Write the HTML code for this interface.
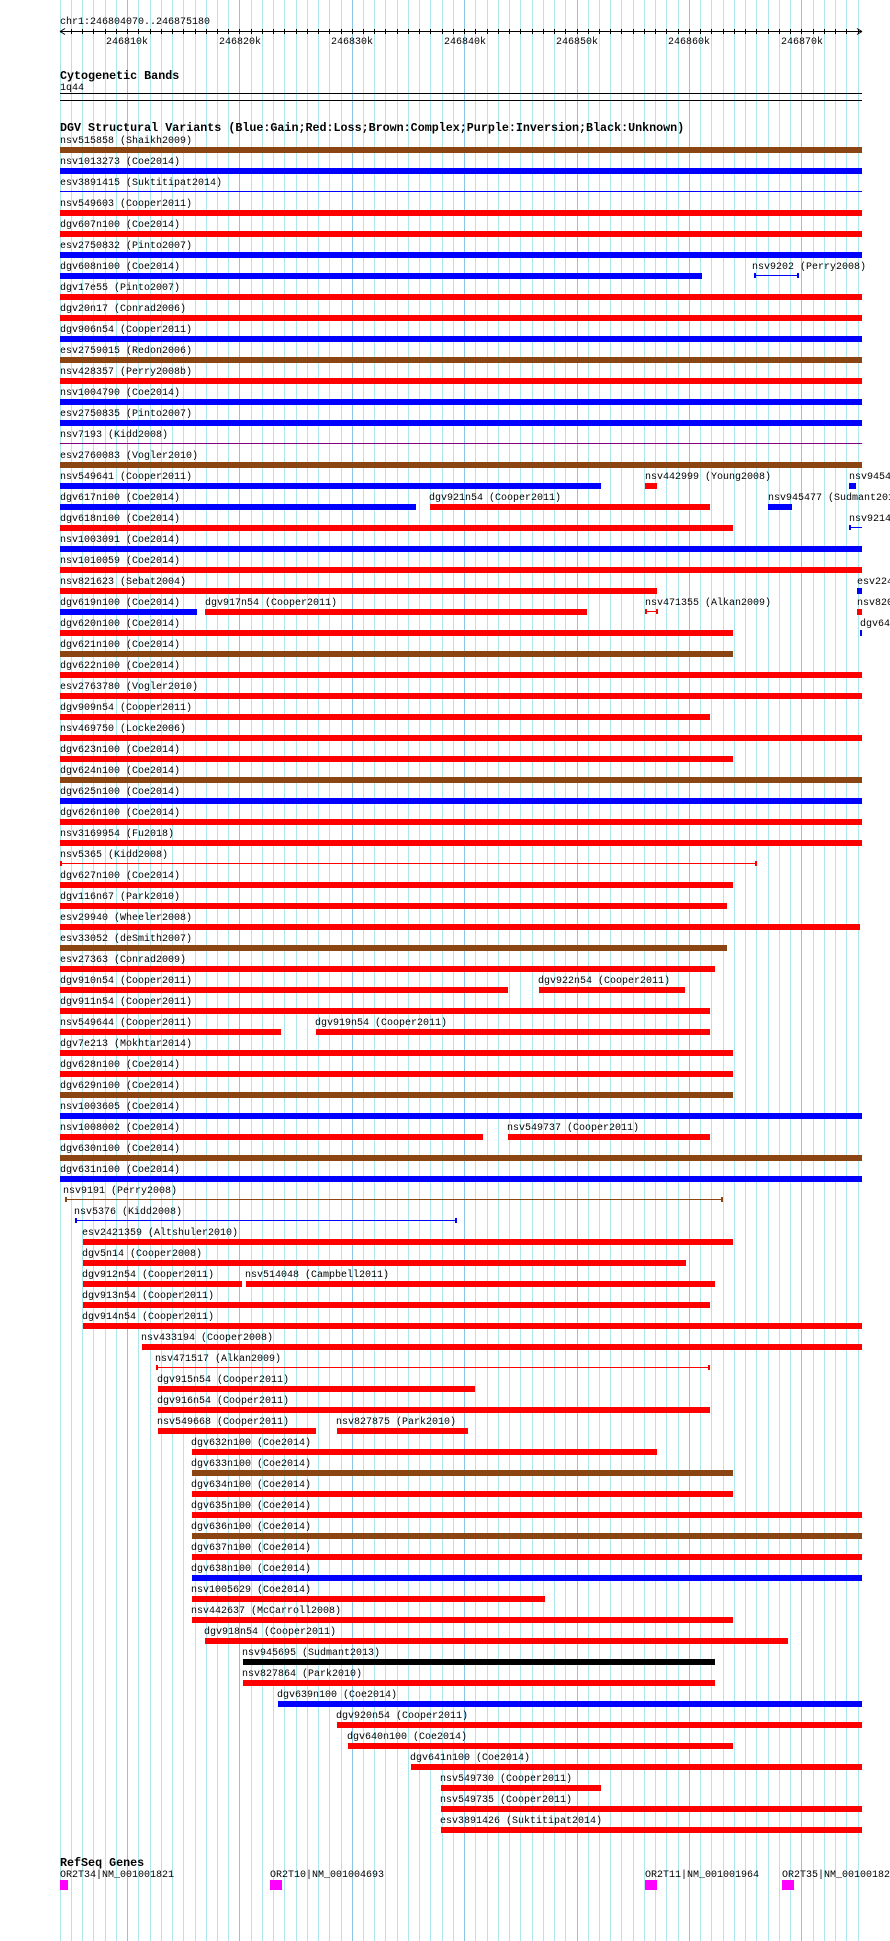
<!DOCTYPE html>
<html><head><meta charset="utf-8"><style>
html,body{margin:0;padding:0;background:#fff;}
svg{display:block;}
text{font-family:"Liberation Mono",monospace;font-size:10px;fill:#000;}
.b{font-weight:bold;font-size:11.7px;}
.g{stroke:#aee6ee;stroke-width:1;}
.G{stroke:#8cc6e6;stroke-width:1;}
</style></head><body>
<svg width="890" height="1941" viewBox="0 0 890 1941" xmlns="http://www.w3.org/2000/svg">
<g>
<line class="g" x1="60.5" y1="0" x2="60.5" y2="1941"/><line class="g" x1="71.5" y1="0" x2="71.5" y2="1941"/><line class="g" x1="82.5" y1="0" x2="82.5" y2="1941"/><line class="g" x1="93.5" y1="0" x2="93.5" y2="1941"/><line class="g" x1="105.5" y1="0" x2="105.5" y2="1941"/><line class="g" x1="116.5" y1="0" x2="116.5" y2="1941"/><line class="G" x1="127.5" y1="0" x2="127.5" y2="1941"/><line class="g" x1="138.5" y1="0" x2="138.5" y2="1941"/><line class="g" x1="150.5" y1="0" x2="150.5" y2="1941"/><line class="g" x1="161.5" y1="0" x2="161.5" y2="1941"/><line class="g" x1="172.5" y1="0" x2="172.5" y2="1941"/><line class="g" x1="183.5" y1="0" x2="183.5" y2="1941"/><line class="g" x1="195.5" y1="0" x2="195.5" y2="1941"/><line class="g" x1="206.5" y1="0" x2="206.5" y2="1941"/><line class="g" x1="217.5" y1="0" x2="217.5" y2="1941"/><line class="g" x1="228.5" y1="0" x2="228.5" y2="1941"/><line class="G" x1="239.5" y1="0" x2="239.5" y2="1941"/><line class="g" x1="251.5" y1="0" x2="251.5" y2="1941"/><line class="g" x1="262.5" y1="0" x2="262.5" y2="1941"/><line class="g" x1="273.5" y1="0" x2="273.5" y2="1941"/><line class="g" x1="284.5" y1="0" x2="284.5" y2="1941"/><line class="g" x1="296.5" y1="0" x2="296.5" y2="1941"/><line class="g" x1="307.5" y1="0" x2="307.5" y2="1941"/><line class="g" x1="318.5" y1="0" x2="318.5" y2="1941"/><line class="g" x1="329.5" y1="0" x2="329.5" y2="1941"/><line class="g" x1="341.5" y1="0" x2="341.5" y2="1941"/><line class="G" x1="352.5" y1="0" x2="352.5" y2="1941"/><line class="g" x1="363.5" y1="0" x2="363.5" y2="1941"/><line class="g" x1="374.5" y1="0" x2="374.5" y2="1941"/><line class="g" x1="385.5" y1="0" x2="385.5" y2="1941"/><line class="g" x1="397.5" y1="0" x2="397.5" y2="1941"/><line class="g" x1="408.5" y1="0" x2="408.5" y2="1941"/><line class="g" x1="419.5" y1="0" x2="419.5" y2="1941"/><line class="g" x1="430.5" y1="0" x2="430.5" y2="1941"/><line class="g" x1="442.5" y1="0" x2="442.5" y2="1941"/><line class="g" x1="453.5" y1="0" x2="453.5" y2="1941"/><line class="G" x1="464.5" y1="0" x2="464.5" y2="1941"/><line class="g" x1="475.5" y1="0" x2="475.5" y2="1941"/><line class="g" x1="487.5" y1="0" x2="487.5" y2="1941"/><line class="g" x1="498.5" y1="0" x2="498.5" y2="1941"/><line class="g" x1="509.5" y1="0" x2="509.5" y2="1941"/><line class="g" x1="520.5" y1="0" x2="520.5" y2="1941"/><line class="g" x1="532.5" y1="0" x2="532.5" y2="1941"/><line class="g" x1="543.5" y1="0" x2="543.5" y2="1941"/><line class="g" x1="554.5" y1="0" x2="554.5" y2="1941"/><line class="g" x1="565.5" y1="0" x2="565.5" y2="1941"/><line class="G" x1="577.5" y1="0" x2="577.5" y2="1941"/><line class="g" x1="588.5" y1="0" x2="588.5" y2="1941"/><line class="g" x1="599.5" y1="0" x2="599.5" y2="1941"/><line class="g" x1="610.5" y1="0" x2="610.5" y2="1941"/><line class="g" x1="621.5" y1="0" x2="621.5" y2="1941"/><line class="g" x1="633.5" y1="0" x2="633.5" y2="1941"/><line class="g" x1="644.5" y1="0" x2="644.5" y2="1941"/><line class="g" x1="655.5" y1="0" x2="655.5" y2="1941"/><line class="g" x1="666.5" y1="0" x2="666.5" y2="1941"/><line class="g" x1="678.5" y1="0" x2="678.5" y2="1941"/><line class="G" x1="689.5" y1="0" x2="689.5" y2="1941"/><line class="g" x1="700.5" y1="0" x2="700.5" y2="1941"/><line class="g" x1="711.5" y1="0" x2="711.5" y2="1941"/><line class="g" x1="723.5" y1="0" x2="723.5" y2="1941"/><line class="g" x1="734.5" y1="0" x2="734.5" y2="1941"/><line class="g" x1="745.5" y1="0" x2="745.5" y2="1941"/><line class="g" x1="756.5" y1="0" x2="756.5" y2="1941"/><line class="g" x1="768.5" y1="0" x2="768.5" y2="1941"/><line class="g" x1="779.5" y1="0" x2="779.5" y2="1941"/><line class="g" x1="790.5" y1="0" x2="790.5" y2="1941"/><line class="G" x1="801.5" y1="0" x2="801.5" y2="1941"/><line class="g" x1="813.5" y1="0" x2="813.5" y2="1941"/><line class="g" x1="824.5" y1="0" x2="824.5" y2="1941"/><line class="g" x1="835.5" y1="0" x2="835.5" y2="1941"/><line class="g" x1="846.5" y1="0" x2="846.5" y2="1941"/><line class="g" x1="858.5" y1="0" x2="858.5" y2="1941"/>
</g>
<!-- ruler -->
<text x="60" y="24">chr1:246804070..246875180</text>
<line x1="60" y1="31.5" x2="862" y2="31.5" stroke="#000"/>
<path d="M60 31.5 L65 28.5 M60 31.5 L65 34.5 M862 31.5 L857 28.5 M862 31.5 L857 34.5" stroke="#000" fill="none"/>
<path stroke="#000" fill="none" d="M71.5 29v5M82.5 29v5M93.5 29v5M105.5 29v5M116.5 29v5M127.5 29v5M138.5 29v5M150.5 29v5M161.5 29v5M172.5 29v5M183.5 29v5M195.5 29v5M206.5 29v5M217.5 29v5M228.5 29v5M239.5 29v5M251.5 29v5M262.5 29v5M273.5 29v5M284.5 29v5M296.5 29v5M307.5 29v5M318.5 29v5M329.5 29v5M341.5 29v5M352.5 29v5M363.5 29v5M374.5 29v5M385.5 29v5M397.5 29v5M408.5 29v5M419.5 29v5M430.5 29v5M442.5 29v5M453.5 29v5M464.5 29v5M475.5 29v5M487.5 29v5M498.5 29v5M509.5 29v5M520.5 29v5M532.5 29v5M543.5 29v5M554.5 29v5M565.5 29v5M577.5 29v5M588.5 29v5M599.5 29v5M610.5 29v5M621.5 29v5M633.5 29v5M644.5 29v5M655.5 29v5M666.5 29v5M678.5 29v5M689.5 29v5M700.5 29v5M711.5 29v5M723.5 29v5M734.5 29v5M745.5 29v5M756.5 29v5M768.5 29v5M779.5 29v5M790.5 29v5M801.5 29v5M813.5 29v5M824.5 29v5M835.5 29v5M846.5 29v5M858.5 29v5"/>
<g text-anchor="middle">
<text x="127" y="44">246810k</text><text x="240" y="44">246820k</text><text x="352" y="44">246830k</text><text x="465" y="44">246840k</text><text x="577" y="44">246850k</text><text x="689" y="44">246860k</text><text x="802" y="44">246870k</text>
</g>
<text class="b" x="60" y="79">Cytogenetic Bands</text>
<text x="60" y="90">1q44</text>
<rect x="60" y="93" width="802" height="1" fill="#000"/>
<rect x="60" y="100" width="802" height="1" fill="#000"/>
<text class="b" x="60" y="131">DGV Structural Variants (Blue:Gain;Red:Loss;Brown:Complex;Purple:Inversion;Black:Unknown)</text>

<g fill="#f00">
<g transform="translate(0,147)"><text x="60" y="-4">nsv515858 (Shaikh2009)</text><rect x="60" width="802" height="6" fill="#8b4513"/></g>
<g transform="translate(0,168)"><text x="60" y="-4">nsv1013273 (Coe2014)</text><rect x="60" width="802" height="6" fill="#00f"/></g>
<g transform="translate(0,189)"><text x="60" y="-4">esv3891415 (Suktitipat2014)</text><rect x="60" y="2" width="802" height="1" fill="#00f"/></g>
<g transform="translate(0,210)"><text x="60" y="-4">nsv549603 (Cooper2011)</text><rect x="60" width="802" height="6"/></g>
<g transform="translate(0,231)"><text x="60" y="-4">dgv607n100 (Coe2014)</text><rect x="60" width="802" height="6"/></g>
<g transform="translate(0,252)"><text x="60" y="-4">esv2750832 (Pinto2007)</text><rect x="60" width="802" height="6" fill="#00f"/></g>
<g transform="translate(0,273)"><text x="60" y="-4">dgv608n100 (Coe2014)</text><rect x="60" width="642" height="6" fill="#00f"/><text x="752" y="-4">nsv9202 (Perry2008)</text><g fill="#00f"><rect x="754" y="2" width="45" height="1"/><rect x="754" y="0" width="2" height="5"/><rect x="797" y="0" width="2" height="5"/></g></g>
<g transform="translate(0,294)"><text x="60" y="-4">dgv17e55 (Pinto2007)</text><rect x="60" width="802" height="6"/></g>
<g transform="translate(0,315)"><text x="60" y="-4">dgv20n17 (Conrad2006)</text><rect x="60" width="802" height="6"/></g>
<g transform="translate(0,336)"><text x="60" y="-4">dgv906n54 (Cooper2011)</text><rect x="60" width="802" height="6" fill="#00f"/></g>
<g transform="translate(0,357)"><text x="60" y="-4">esv2759015 (Redon2006)</text><rect x="60" width="802" height="6" fill="#8b4513"/></g>
<g transform="translate(0,378)"><text x="60" y="-4">nsv428357 (Perry2008b)</text><rect x="60" width="802" height="6"/></g>
<g transform="translate(0,399)"><text x="60" y="-4">nsv1004790 (Coe2014)</text><rect x="60" width="802" height="6" fill="#00f"/></g>
<g transform="translate(0,420)"><text x="60" y="-4">esv2750835 (Pinto2007)</text><rect x="60" width="802" height="6" fill="#00f"/></g>
<g transform="translate(0,441)"><text x="60" y="-4">nsv7193 (Kidd2008)</text><rect x="60" y="2" width="802" height="1" fill="#800080"/></g>
<g transform="translate(0,462)"><text x="60" y="-4">esv2760083 (Vogler2010)</text><rect x="60" width="802" height="6" fill="#8b4513"/></g>
<g transform="translate(0,483)"><text x="60" y="-4">nsv549641 (Cooper2011)</text><rect x="60" width="541" height="6" fill="#00f"/><text x="645" y="-4">nsv442999 (Young2008)</text><rect x="645" width="12" height="6"/><text x="849" y="-4">nsv9454</text><rect x="849" width="7" height="6" fill="#00f"/></g>
<g transform="translate(0,504)"><text x="60" y="-4">dgv617n100 (Coe2014)</text><rect x="60" width="356" height="6" fill="#00f"/><text x="429" y="-4">dgv921n54 (Cooper2011)</text><rect x="430" width="280" height="6"/><text x="768" y="-4">nsv945477 (Sudmant2013)</text><rect x="768" width="24" height="6" fill="#00f"/></g>
<g transform="translate(0,525)"><text x="60" y="-4">dgv618n100 (Coe2014)</text><rect x="60" width="673" height="6"/><text x="849" y="-4">nsv9214</text><g fill="#00f"><rect x="849" y="2" width="13" height="1"/><rect x="849" y="0" width="2" height="5"/></g></g>
<g transform="translate(0,546)"><text x="60" y="-4">nsv1003091 (Coe2014)</text><rect x="60" width="802" height="6" fill="#00f"/></g>
<g transform="translate(0,567)"><text x="60" y="-4">nsv1010059 (Coe2014)</text><rect x="60" width="802" height="6"/></g>
<g transform="translate(0,588)"><text x="60" y="-4">nsv821623 (Sebat2004)</text><rect x="60" width="597" height="6"/><text x="857" y="-4">esv224</text><rect x="857" width="5" height="6" fill="#00f"/></g>
<g transform="translate(0,609)"><text x="60" y="-4">dgv619n100 (Coe2014)</text><rect x="60" width="137" height="6" fill="#00f"/><text x="205" y="-4">dgv917n54 (Cooper2011)</text><rect x="205" width="382" height="6"/><text x="645" y="-4">nsv471355 (Alkan2009)</text><rect x="645" y="2" width="13" height="1"/><rect x="645" y="0" width="2" height="5"/><rect x="656" y="0" width="2" height="5"/><text x="857" y="-4">nsv820</text><rect x="857" width="5" height="6"/></g>
<g transform="translate(0,630)"><text x="60" y="-4">dgv620n100 (Coe2014)</text><rect x="60" width="673" height="6"/><text x="860" y="-4">dgv64</text><rect x="860" width="2" height="6" fill="#00f"/></g>
<g transform="translate(0,651)"><text x="60" y="-4">dgv621n100 (Coe2014)</text><rect x="60" width="673" height="6" fill="#8b4513"/></g>
<g transform="translate(0,672)"><text x="60" y="-4">dgv622n100 (Coe2014)</text><rect x="60" width="802" height="6"/></g>
<g transform="translate(0,693)"><text x="60" y="-4">esv2763780 (Vogler2010)</text><rect x="60" width="802" height="6"/></g>
<g transform="translate(0,714)"><text x="60" y="-4">dgv909n54 (Cooper2011)</text><rect x="60" width="650" height="6"/></g>
<g transform="translate(0,735)"><text x="60" y="-4">nsv469750 (Locke2006)</text><rect x="60" width="802" height="6"/></g>
<g transform="translate(0,756)"><text x="60" y="-4">dgv623n100 (Coe2014)</text><rect x="60" width="673" height="6"/></g>
<g transform="translate(0,777)"><text x="60" y="-4">dgv624n100 (Coe2014)</text><rect x="60" width="802" height="6" fill="#8b4513"/></g>
<g transform="translate(0,798)"><text x="60" y="-4">dgv625n100 (Coe2014)</text><rect x="60" width="802" height="6" fill="#00f"/></g>
<g transform="translate(0,819)"><text x="60" y="-4">dgv626n100 (Coe2014)</text><rect x="60" width="802" height="6"/></g>
<g transform="translate(0,840)"><text x="60" y="-4">nsv3169954 (Fu2018)</text><rect x="60" width="802" height="6"/></g>
<g transform="translate(0,861)"><text x="60" y="-4">nsv5365 (Kidd2008)</text><rect x="60" y="2" width="697" height="1"/><rect x="60" y="0" width="2" height="5"/><rect x="755" y="0" width="2" height="5"/></g>
<g transform="translate(0,882)"><text x="60" y="-4">dgv627n100 (Coe2014)</text><rect x="60" width="673" height="6"/></g>
<g transform="translate(0,903)"><text x="60" y="-4">dgv116n67 (Park2010)</text><rect x="60" width="667" height="6"/></g>
<g transform="translate(0,924)"><text x="60" y="-4">esv29940 (Wheeler2008)</text><rect x="60" width="800" height="6"/></g>
<g transform="translate(0,945)"><text x="60" y="-4">esv33052 (deSmith2007)</text><rect x="60" width="667" height="6" fill="#8b4513"/></g>
<g transform="translate(0,966)"><text x="60" y="-4">esv27363 (Conrad2009)</text><rect x="60" width="655" height="6"/></g>
<g transform="translate(0,987)"><text x="60" y="-4">dgv910n54 (Cooper2011)</text><rect x="60" width="448" height="6"/><text x="538" y="-4">dgv922n54 (Cooper2011)</text><rect x="539" width="146" height="6"/></g>
<g transform="translate(0,1008)"><text x="60" y="-4">dgv911n54 (Cooper2011)</text><rect x="60" width="650" height="6"/></g>
<g transform="translate(0,1029)"><text x="60" y="-4">nsv549644 (Cooper2011)</text><rect x="60" width="221" height="6"/><text x="315" y="-4">dgv919n54 (Cooper2011)</text><rect x="316" width="394" height="6"/></g>
<g transform="translate(0,1050)"><text x="60" y="-4">dgv7e213 (Mokhtar2014)</text><rect x="60" width="673" height="6"/></g>
<g transform="translate(0,1071)"><text x="60" y="-4">dgv628n100 (Coe2014)</text><rect x="60" width="673" height="6"/></g>
<g transform="translate(0,1092)"><text x="60" y="-4">dgv629n100 (Coe2014)</text><rect x="60" width="673" height="6" fill="#8b4513"/></g>
<g transform="translate(0,1113)"><text x="60" y="-4">nsv1003605 (Coe2014)</text><rect x="60" width="802" height="6" fill="#00f"/></g>
<g transform="translate(0,1134)"><text x="60" y="-4">nsv1008002 (Coe2014)</text><rect x="60" width="423" height="6"/><text x="507" y="-4">nsv549737 (Cooper2011)</text><rect x="508" width="202" height="6"/></g>
<g transform="translate(0,1155)"><text x="60" y="-4">dgv630n100 (Coe2014)</text><rect x="60" width="802" height="6" fill="#8b4513"/></g>
<g transform="translate(0,1176)"><text x="60" y="-4">dgv631n100 (Coe2014)</text><rect x="60" width="802" height="6" fill="#00f"/></g>
<g transform="translate(0,1197)"><text x="63" y="-4">nsv9191 (Perry2008)</text><g fill="#8b4513"><rect x="65" y="2" width="658" height="1"/><rect x="65" y="0" width="2" height="5"/><rect x="721" y="0" width="2" height="5"/></g></g>
<g transform="translate(0,1218)"><text x="74" y="-4">nsv5376 (Kidd2008)</text><g fill="#00f"><rect x="75" y="2" width="382" height="1"/><rect x="75" y="0" width="2" height="5"/><rect x="455" y="0" width="2" height="5"/></g></g>
<g transform="translate(0,1239)"><text x="82" y="-4">esv2421359 (Altshuler2010)</text><rect x="83" width="650" height="6"/></g>
<g transform="translate(0,1260)"><text x="82" y="-4">dgv5n14 (Cooper2008)</text><rect x="83" width="603" height="6"/></g>
<g transform="translate(0,1281)"><text x="82" y="-4">dgv912n54 (Cooper2011)</text><rect x="83" width="159" height="6"/><text x="245" y="-4">nsv514048 (Campbell2011)</text><rect x="246" width="469" height="6"/></g>
<g transform="translate(0,1302)"><text x="82" y="-4">dgv913n54 (Cooper2011)</text><rect x="83" width="627" height="6"/></g>
<g transform="translate(0,1323)"><text x="82" y="-4">dgv914n54 (Cooper2011)</text><rect x="83" width="779" height="6"/></g>
<g transform="translate(0,1344)"><text x="141" y="-4">nsv433194 (Cooper2008)</text><rect x="142" width="720" height="6"/></g>
<g transform="translate(0,1365)"><text x="155" y="-4">nsv471517 (Alkan2009)</text><rect x="156" y="2" width="554" height="1"/><rect x="156" y="0" width="2" height="5"/><rect x="708" y="0" width="2" height="5"/></g>
<g transform="translate(0,1386)"><text x="157" y="-4">dgv915n54 (Cooper2011)</text><rect x="158" width="317" height="6"/></g>
<g transform="translate(0,1407)"><text x="157" y="-4">dgv916n54 (Cooper2011)</text><rect x="158" width="552" height="6"/></g>
<g transform="translate(0,1428)"><text x="157" y="-4">nsv549668 (Cooper2011)</text><rect x="158" width="158" height="6"/><text x="336" y="-4">nsv827875 (Park2010)</text><rect x="337" width="131" height="6"/></g>
<g transform="translate(0,1449)"><text x="191" y="-4">dgv632n100 (Coe2014)</text><rect x="192" width="465" height="6"/></g>
<g transform="translate(0,1470)"><text x="191" y="-4">dgv633n100 (Coe2014)</text><rect x="192" width="541" height="6" fill="#8b4513"/></g>
<g transform="translate(0,1491)"><text x="191" y="-4">dgv634n100 (Coe2014)</text><rect x="192" width="541" height="6"/></g>
<g transform="translate(0,1512)"><text x="191" y="-4">dgv635n100 (Coe2014)</text><rect x="192" width="670" height="6"/></g>
<g transform="translate(0,1533)"><text x="191" y="-4">dgv636n100 (Coe2014)</text><rect x="192" width="670" height="6" fill="#8b4513"/></g>
<g transform="translate(0,1554)"><text x="191" y="-4">dgv637n100 (Coe2014)</text><rect x="192" width="670" height="6"/></g>
<g transform="translate(0,1575)"><text x="191" y="-4">dgv638n100 (Coe2014)</text><rect x="192" width="670" height="6" fill="#00f"/></g>
<g transform="translate(0,1596)"><text x="191" y="-4">nsv1005629 (Coe2014)</text><rect x="192" width="353" height="6"/></g>
<g transform="translate(0,1617)"><text x="191" y="-4">nsv442637 (McCarroll2008)</text><rect x="192" width="541" height="6"/></g>
<g transform="translate(0,1638)"><text x="204" y="-4">dgv918n54 (Cooper2011)</text><rect x="205" width="583" height="6"/></g>
<g transform="translate(0,1659)"><text x="242" y="-4">nsv945695 (Sudmant2013)</text><rect x="243" width="472" height="6" fill="#000"/></g>
<g transform="translate(0,1680)"><text x="242" y="-4">nsv827864 (Park2010)</text><rect x="243" width="472" height="6"/></g>
<g transform="translate(0,1701)"><text x="277" y="-4">dgv639n100 (Coe2014)</text><rect x="278" width="584" height="6" fill="#00f"/></g>
<g transform="translate(0,1722)"><text x="336" y="-4">dgv920n54 (Cooper2011)</text><rect x="337" width="525" height="6"/></g>
<g transform="translate(0,1743)"><text x="347" y="-4">dgv640n100 (Coe2014)</text><rect x="348" width="385" height="6"/></g>
<g transform="translate(0,1764)"><text x="410" y="-4">dgv641n100 (Coe2014)</text><rect x="411" width="451" height="6"/></g>
<g transform="translate(0,1785)"><text x="440" y="-4">nsv549730 (Cooper2011)</text><rect x="441" width="160" height="6"/></g>
<g transform="translate(0,1806)"><text x="440" y="-4">nsv549735 (Cooper2011)</text><rect x="441" width="421" height="6"/></g>
<g transform="translate(0,1827)"><text x="440" y="-4">esv3891426 (Suktitipat2014)</text><rect x="441" width="421" height="6"/></g>
</g>

<text class="b" x="60" y="1866">RefSeq Genes</text>
<g fill="#f0f">
<text x="60" y="1877">OR2T34|NM_001001821</text><rect x="60" y="1880" width="8" height="10"/>
<text x="270" y="1877">OR2T10|NM_001004693</text><rect x="270" y="1880" width="12" height="10"/>
<text x="645" y="1877">OR2T11|NM_001001964</text><rect x="645" y="1880" width="12" height="10"/>
<text x="782" y="1877">OR2T35|NM_001001824</text><rect x="782" y="1880" width="12" height="10"/>
</g>
</svg>
</body></html>
